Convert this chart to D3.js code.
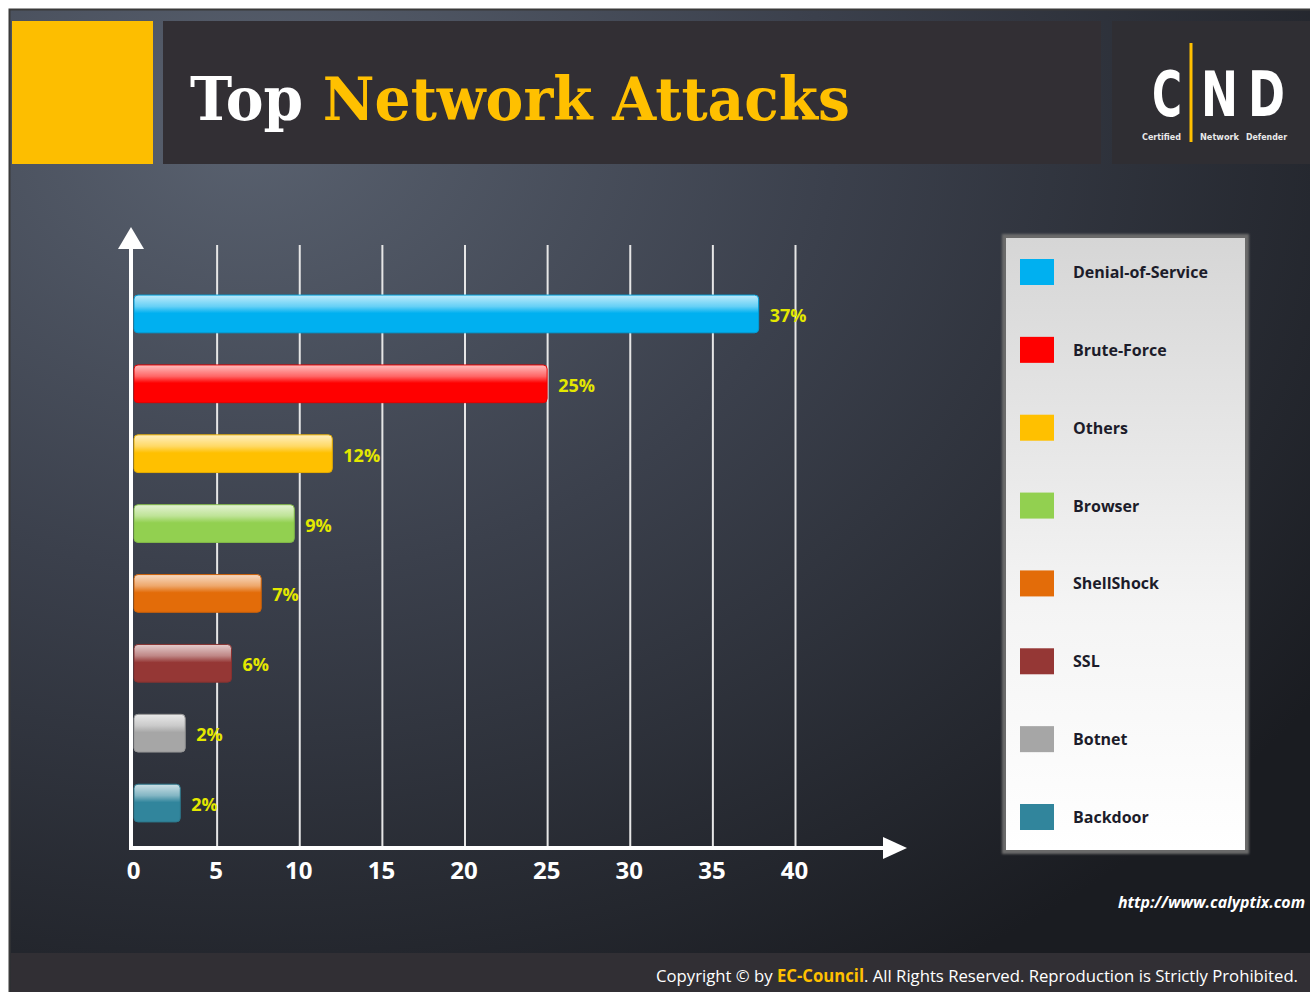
<!DOCTYPE html>
<html>
  <head>
    <meta charset="UTF-8">
    <title>Top Network Attacks</title>
    <style>
      body { margin: 0; background: #fff; }
      svg { display: block; }
    </style>
  </head>
  <body>
    <svg></svg>
    <script src="https://d3js.org/d3.v7.min.js"></script>
    <script>

// chart data
var attacks = ["Denial-of-Service", "Brute-Force", "Others", "Browser", "ShellShock", "SSL", "Botnet", "Backdoor"];
var barLengths = [37.8, 25, 12, 9.7, 7.7, 5.9, 3.1, 2.8]; // as drawn
var valueLabels = ["37%", "25%", "12%", "9%", "7%", "6%", "2%", "2%"];
var barColors = ["#00b0f0", "#ff0000", "#ffc000", "#92d050", "#e36c09", "#953735", "#a6a6a6", "#31859c"];
var xTicks = [0, 5, 10, 15, 20, 25, 30, 35, 40];

var config = {
  "width": 1310,
  "height": 992,
  "plot": { "left": 134, "right": 795, "top": 245, "bottom": 848 }
};

var svg = d3.select("svg")
  .attr("width", config.width)
  .attr("height", config.height);

var defs = svg.append("defs");

// slide background
var bg = defs.append("radialGradient")
  .attr("id", "bg")
  .attr("cx", 0.18).attr("cy", 0.12).attr("r", 1.0);
bg.append("stop").attr("offset", "0%").attr("stop-color", "#59616f");
bg.append("stop").attr("offset", "45%").attr("stop-color", "#3b404c");
bg.append("stop").attr("offset", "100%").attr("stop-color", "#1a1c21");

var lg = defs.append("linearGradient")
  .attr("id", "legendFill")
  .attr("x1", 0).attr("y1", 0).attr("x2", 0).attr("y2", 1);
lg.append("stop").attr("offset", "0%").attr("stop-color", "#d6d6d6");
lg.append("stop").attr("offset", "60%").attr("stop-color", "#f4f4f4");
lg.append("stop").attr("offset", "100%").attr("stop-color", "#ffffff");

var shadow = defs.append("filter").attr("id", "shadow")
  .attr("x", "-10%").attr("y", "-10%").attr("width", "120%").attr("height", "120%");
shadow.append("feGaussianBlur").attr("stdDeviation", 1.2);

// glossy gradient per bar colour
barColors.forEach(function(c, i){
  var g = defs.append("linearGradient")
    .attr("id", "bar" + i)
    .attr("x1", 0).attr("y1", 0).attr("x2", 0).attr("y2", 1);
  g.append("stop").attr("offset", "0%").attr("stop-color", d3.interpolateRgb(c, "#fff")(0.75));
  g.append("stop").attr("offset", "30%").attr("stop-color", d3.interpolateRgb(c, "#fff")(0.4));
  g.append("stop").attr("offset", "48%").attr("stop-color", c);
  g.append("stop").attr("offset", "100%").attr("stop-color", c);
});

/* SLIDE FRAME */
svg.append("rect")
  .attr("x", 9.5).attr("y", 9.5)
  .attr("width", 1310).attr("height", 992)
  .attr("fill", "url(#bg)")
  .attr("stroke", "#3a3a3a")
  .attr("stroke-width", 2);

// header
svg.append("rect").attr("x", 12).attr("y", 21).attr("width", 141).attr("height", 143).attr("fill", "#fdbe00");
svg.append("rect").attr("x", 163).attr("y", 21).attr("width", 938).attr("height", 143).attr("fill", "#322f34");
svg.append("rect").attr("x", 1112).attr("y", 21).attr("width", 200).attr("height", 143).attr("fill", "#2f2e33");

var title = svg.append("text")
  .attr("x", 190).attr("y", 120)
  .attr("font-family", "'DejaVu Serif', serif")
  .attr("font-weight", "bold")
  .attr("font-size", 60)
  .attr("textLength", 660)
  .attr("lengthAdjust", "spacingAndGlyphs");
title.append("tspan").attr("fill", "#ffffff").text("Top ");
title.append("tspan").attr("fill", "#ffc000").text("Network Attacks");

// logo
var logo = svg.append("g").attr("font-family", "'DejaVu Sans', sans-serif").attr("font-weight", "bold").attr("fill", "#fff");
[["C", 1152, 30], ["N", 1201, 37], ["D", 1248, 37]].forEach(function(l){
  logo.append("text")
    .attr("x", l[1]).attr("y", 116)
    .attr("font-size", 62)
    .attr("textLength", l[2])
    .attr("lengthAdjust", "spacingAndGlyphs")
    .text(l[0]);
});
logo.append("rect").attr("x", 1189.5).attr("y", 43).attr("width", 3).attr("height", 99).attr("fill", "#ffc000");
[["Certified", 1142, 39], ["Network", 1200, 39], ["Defender", 1246, 41]].forEach(function(l){
  logo.append("text")
    .attr("x", l[1]).attr("y", 140)
    .attr("font-size", 8)
    .attr("fill", "#e8e8e8")
    .attr("textLength", l[2])
    .attr("lengthAdjust", "spacingAndGlyphs")
    .text(l[0]);
});

/* CHART */
var x = d3.scaleLinear()
  .domain([0, 40])
  .range([config.plot.left, config.plot.right]);

var y = d3.scaleBand()
  .domain(attacks)
  .range([279, 838])
  .paddingInner(0.46)
  .paddingOuter(0.23);

var data = attacks.map(function(a, i){
  return { name: a, value: barLengths[i], label: valueLabels[i], color: barColors[i], idx: i };
});

// gridlines + tick labels
var xAxis = svg.append("g")
  .attr("transform", "translate(0," + config.plot.bottom + ")")
  .call(d3.axisBottom(x)
    .tickValues(xTicks)
    .tickSize(-(config.plot.bottom - config.plot.top))
    .tickPadding(14));
xAxis.select(".domain").remove();
xAxis.selectAll(".tick line")
  .attr("stroke", "#e6e6e6")
  .attr("stroke-width", 2)
  .filter(function(d){ return d === 0; }).remove();
xAxis.selectAll(".tick text")
  .attr("fill", "#ffffff")
  .attr("font-family", "'Open Sans', sans-serif")
  .attr("font-weight", "bold")
  .attr("font-size", 24)
  .attr("dx", -1);

// bars
svg.append("g")
  .selectAll("rect")
  .data(data)
  .enter().append("rect")
    .attr("x", x(0))
    .attr("y", function(d){ return y(d.name); })
    .attr("width", function(d){ return x(d.value) - x(0); })
    .attr("height", y.bandwidth())
    .attr("rx", 4)
    .attr("fill", function(d){ return "url(#bar" + d.idx + ")"; })
    .attr("stroke", function(d){ return d3.color(d.color).darker(0.3); })
    .attr("stroke-width", 1);

// value labels
svg.append("g")
  .selectAll("text")
  .data(data)
  .enter().append("text")
    .attr("x", function(d){ return x(d.value) + 11; })
    .attr("y", function(d){ return y(d.name) + y.bandwidth() / 2 + 8; })
    .attr("fill", "#e4e800")
    .attr("font-family", "'Open Sans', sans-serif")
    .attr("font-weight", "bold")
    .attr("font-size", 18)
    .text(function(d){ return d.label; });

// axes with arrows
var axisX0 = x(0) - 3;
svg.append("line")
  .attr("x1", axisX0).attr("y1", config.plot.bottom + 2)
  .attr("x2", axisX0).attr("y2", 246)
  .attr("stroke", "#fff").attr("stroke-width", 4);
svg.append("path")
  .attr("d", "M" + axisX0 + ",227L" + (axisX0 + 13) + ",249L" + (axisX0 - 13) + ",249Z")
  .attr("fill", "#fff");
svg.append("line")
  .attr("x1", axisX0 - 2).attr("y1", config.plot.bottom)
  .attr("x2", 886).attr("y2", config.plot.bottom)
  .attr("stroke", "#fff").attr("stroke-width", 4);
svg.append("path")
  .attr("d", "M907," + config.plot.bottom + "L883," + (config.plot.bottom - 11) + "L883," + (config.plot.bottom + 11) + "Z")
  .attr("fill", "#fff");

/* LEGEND */
svg.append("rect")
  .attr("x", 1002).attr("y", 234).attr("width", 247).attr("height", 620)
  .attr("fill", "#6a6a6a")
  .attr("filter", "url(#shadow)");
svg.append("rect")
  .attr("x", 1006).attr("y", 238).attr("width", 239).attr("height", 612)
  .attr("fill", "url(#legendFill)");

var ly = d3.scalePoint()
  .domain(attacks)
  .range([272, 817]);

var legend = svg.append("g")
  .selectAll("g")
  .data(data)
  .enter().append("g")
    .attr("transform", function(d){ return "translate(1020," + ly(d.name) + ")"; });
legend.append("rect")
  .attr("x", 0).attr("y", -13)
  .attr("width", 34).attr("height", 26)
  .attr("fill", function(d){ return d.color; });
legend.append("text")
  .attr("x", 53).attr("y", 6)
  .attr("fill", "#1c1c2a")
  .attr("font-family", "'Open Sans', sans-serif")
  .attr("font-weight", "bold")
  .attr("font-size", 16)
  .text(function(d){ return d.name; });

/* FOOTER */
svg.append("text")
  .attr("x", 1305).attr("y", 908)
  .attr("text-anchor", "end")
  .attr("fill", "#ffffff")
  .attr("font-family", "'Open Sans', sans-serif")
  .attr("font-weight", "bold")
  .attr("font-style", "italic")
  .attr("font-size", 16)
  .attr("textLength", 187)
  .attr("lengthAdjust", "spacingAndGlyphs")
  .text("http://www.calyptix.com");

svg.append("rect").attr("x", 11).attr("y", 953).attr("width", 1300).attr("height", 40).attr("fill", "#312f34");

var copy = svg.append("text")
  .attr("x", 656).attr("y", 982)
  .attr("fill", "#ffffff")
  .attr("font-family", "'Open Sans', sans-serif")
  .attr("font-size", 17)
  .attr("textLength", 642)
  .attr("lengthAdjust", "spacingAndGlyphs");
copy.append("tspan").text("Copyright \u00a9 by ");
copy.append("tspan").attr("fill", "#ffc000").attr("font-weight", "bold").text("EC-Council");
copy.append("tspan").text(". All Rights Reserved. Reproduction is Strictly Prohibited.");

    </script>
  </body>
</html>
